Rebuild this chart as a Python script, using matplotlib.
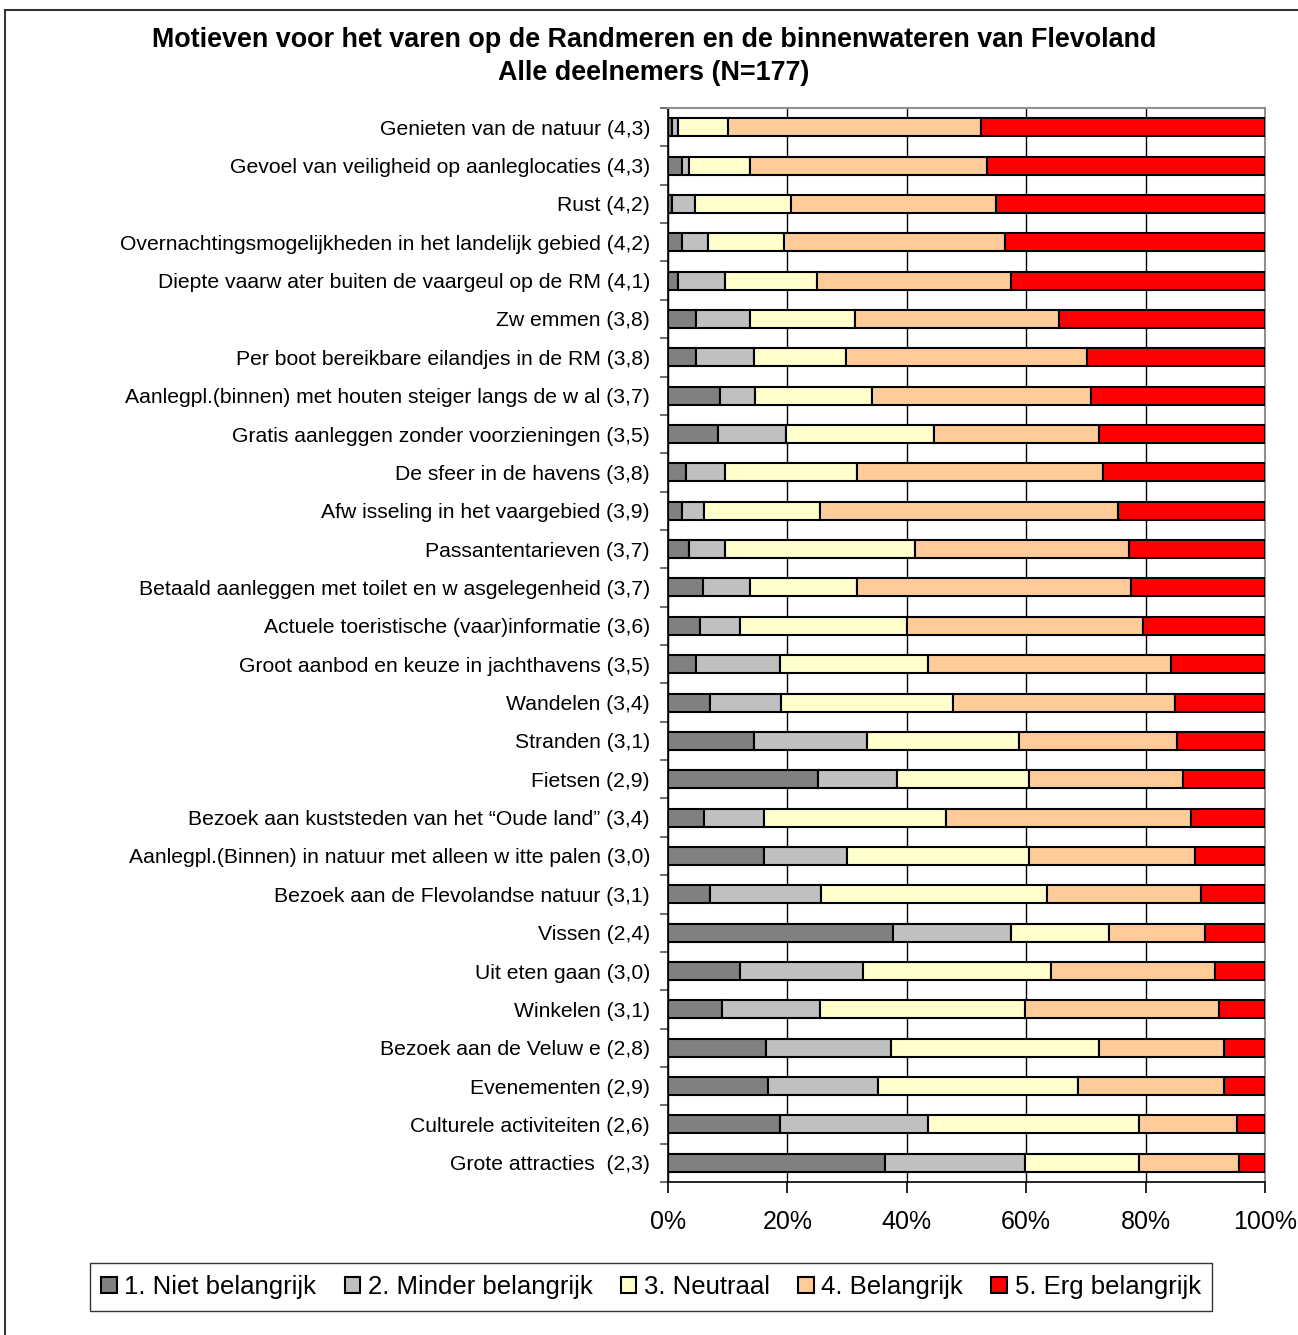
import matplotlib
matplotlib.use("Agg")
import matplotlib.pyplot as plt
import numpy as np
from matplotlib.patches import Rectangle

plt.rcParams['font.family'] = ['Liberation Sans', 'DejaVu Sans']

# categorieen, van boven naar beneden
categories = [
    "Genieten van de natuur (4,3)",
    "Gevoel van veiligheid op aanleglocaties (4,3)",
    "Rust (4,2)",
    "Overnachtingsmogelijkheden in het landelijk gebied (4,2)",
    "Diepte vaarw ater buiten de vaargeul op de RM (4,1)",
    "Zw emmen (3,8)",
    "Per boot bereikbare eilandjes in de RM (3,8)",
    "Aanlegpl.(binnen) met houten steiger langs de w al (3,7)",
    "Gratis aanleggen zonder voorzieningen (3,5)",
    "De sfeer in de havens (3,8)",
    "Afw isseling in het vaargebied (3,9)",
    "Passantentarieven (3,7)",
    "Betaald aanleggen met toilet en w asgelegenheid (3,7)",
    "Actuele toeristische (vaar)informatie (3,6)",
    "Groot aanbod en keuze in jachthavens (3,5)",
    "Wandelen (3,4)",
    "Stranden (3,1)",
    "Fietsen (2,9)",
    "Bezoek aan kuststeden van het \u201cOude land\u201d (3,4)",
    "Aanlegpl.(Binnen) in natuur met alleen w itte palen (3,0)",
    "Bezoek aan de Flevolandse natuur (3,1)",
    "Vissen (2,4)",
    "Uit eten gaan (3,0)",
    "Winkelen (3,1)",
    "Bezoek aan de Veluw e (2,8)",
    "Evenementen (2,9)",
    "Culturele activiteiten (2,6)",
    "Grote attracties  (2,3)",
]

series_names = ["1. Niet belangrijk", "2. Minder belangrijk", "3. Neutraal",
                "4. Belangrijk", "5. Erg belangrijk"]

niet = [0.7, 2.3, 0.6, 2.3, 1.6, 4.7, 4.7, 8.7, 8.3, 3.0, 2.3, 3.6, 5.9, 5.3,
        4.7, 7.0, 14.4, 25.1, 6.0, 16.0, 7.0, 37.7, 12.1, 9.0, 16.4, 16.7, 18.7, 36.4]
minder = [0.9, 1.3, 4.0, 4.4, 8.0, 9.0, 9.7, 5.9, 11.4, 6.6, 3.7, 6.0, 7.8, 6.8,
          14.0, 12.0, 19.0, 13.3, 10.0, 14.0, 18.6, 19.8, 20.6, 16.4, 21.0, 18.4, 24.8, 23.4]
neutraal = [8.4, 10.1, 16.0, 12.7, 15.4, 17.7, 15.4, 19.5, 24.8, 22.1, 19.4, 31.8, 18.0, 28.0,
            24.8, 28.8, 25.4, 22.1, 30.5, 30.5, 37.9, 16.4, 31.5, 34.4, 34.8, 33.5, 35.4, 19.1]
belangrijk = [42.4, 39.8, 34.4, 37.1, 32.5, 34.1, 40.4, 36.8, 27.7, 41.2, 49.9, 35.9, 45.9, 39.5,
              40.8, 37.2, 26.5, 25.8, 41.1, 27.8, 25.8, 16.1, 27.5, 32.5, 21.0, 24.6, 16.4, 16.7]
erg = [47.6, 46.5, 45.0, 43.5, 42.5, 34.5, 29.8, 29.1, 27.8, 27.1, 24.7, 22.7, 22.4, 20.4,
       15.7, 15.0, 14.7, 13.7, 12.4, 11.7, 10.7, 10.0, 8.3, 7.7, 6.8, 6.8, 4.7, 4.4]

colors = ["#808080", "#C0C0C0", "#FFFFCC", "#FFCC99", "#FF0000"]

fig = plt.figure(figsize=(12.98, 13.35), dpi=100)
W, H = 1298, 1335
ax = fig.add_axes([668 / W, 1 - 1182 / H, (1265 - 668) / W, (1182 - 108) / H])

y = np.arange(len(categories))
left = np.zeros(len(categories))
for name, vals, col in zip(series_names, [niet, minder, neutraal, belangrijk, erg], colors):
    vals = np.array(vals)
    ax.barh(y, vals, left=left, height=0.47, color=col, edgecolor="black",
            linewidth=1.5, label=name, zorder=3)
    left += vals

ax.set_xlim(0, 100)
ax.set_ylim(len(categories) - 0.5, -0.5)

ax.set_xticks([0, 20, 40, 60, 80, 100])
ax.set_xticklabels(["0%", "20%", "40%", "60%", "80%", "100%"], fontsize=18)
ax.tick_params(axis="x", length=8, width=1.2, pad=12, color="black")
ax.grid(axis="x", color="black", linewidth=1, zorder=0)

# tickjes tussen de balken, labels in het midden
ax.set_yticks(np.arange(len(categories) + 1) - 0.5)
ax.set_yticklabels([])
ax.set_yticks(y, minor=True)
ax.set_yticklabels(categories, minor=True, fontsize=15.2)
ax.tick_params(axis="y", which="major", length=6, width=1.2, color="#555555")
ax.tick_params(axis="y", which="minor", length=0, pad=13)

for s in ["left", "bottom"]:
    ax.spines[s].set_color("black")
    ax.spines[s].set_linewidth(1.2)
for s in ["top", "right"]:
    ax.spines[s].set_color("#909090")
    ax.spines[s].set_linewidth(1.5)

fig.text(654 / W, 1 - 40 / H, "Motieven voor het varen op de Randmeren en de binnenwateren van Flevoland",
         ha="center", va="center", fontsize=19.4, fontweight="bold")
fig.text(654 / W, 1 - 73 / H, "Alle deelnemers (N=177)",
         ha="center", va="center", fontsize=19.4, fontweight="bold")

leg = fig.legend(loc="center", bbox_to_anchor=(651 / W, 1 - 1287 / H), ncol=5,
                 fontsize=18.5, frameon=True, fancybox=False, edgecolor="black",
                 handlelength=0.6, handleheight=0.6, handletextpad=0.3,
                 columnspacing=1.1, borderpad=0.45)
leg.get_frame().set_linewidth(1.0)

# kader om de hele grafiek
fig.patches.append(Rectangle((5 / W, -0.1), 1.2, 1 - 10 / H + 0.1, transform=fig.transFigure,
                             fill=False, edgecolor="#333333", linewidth=1.5))

fig.savefig("out.png", dpi=100)
